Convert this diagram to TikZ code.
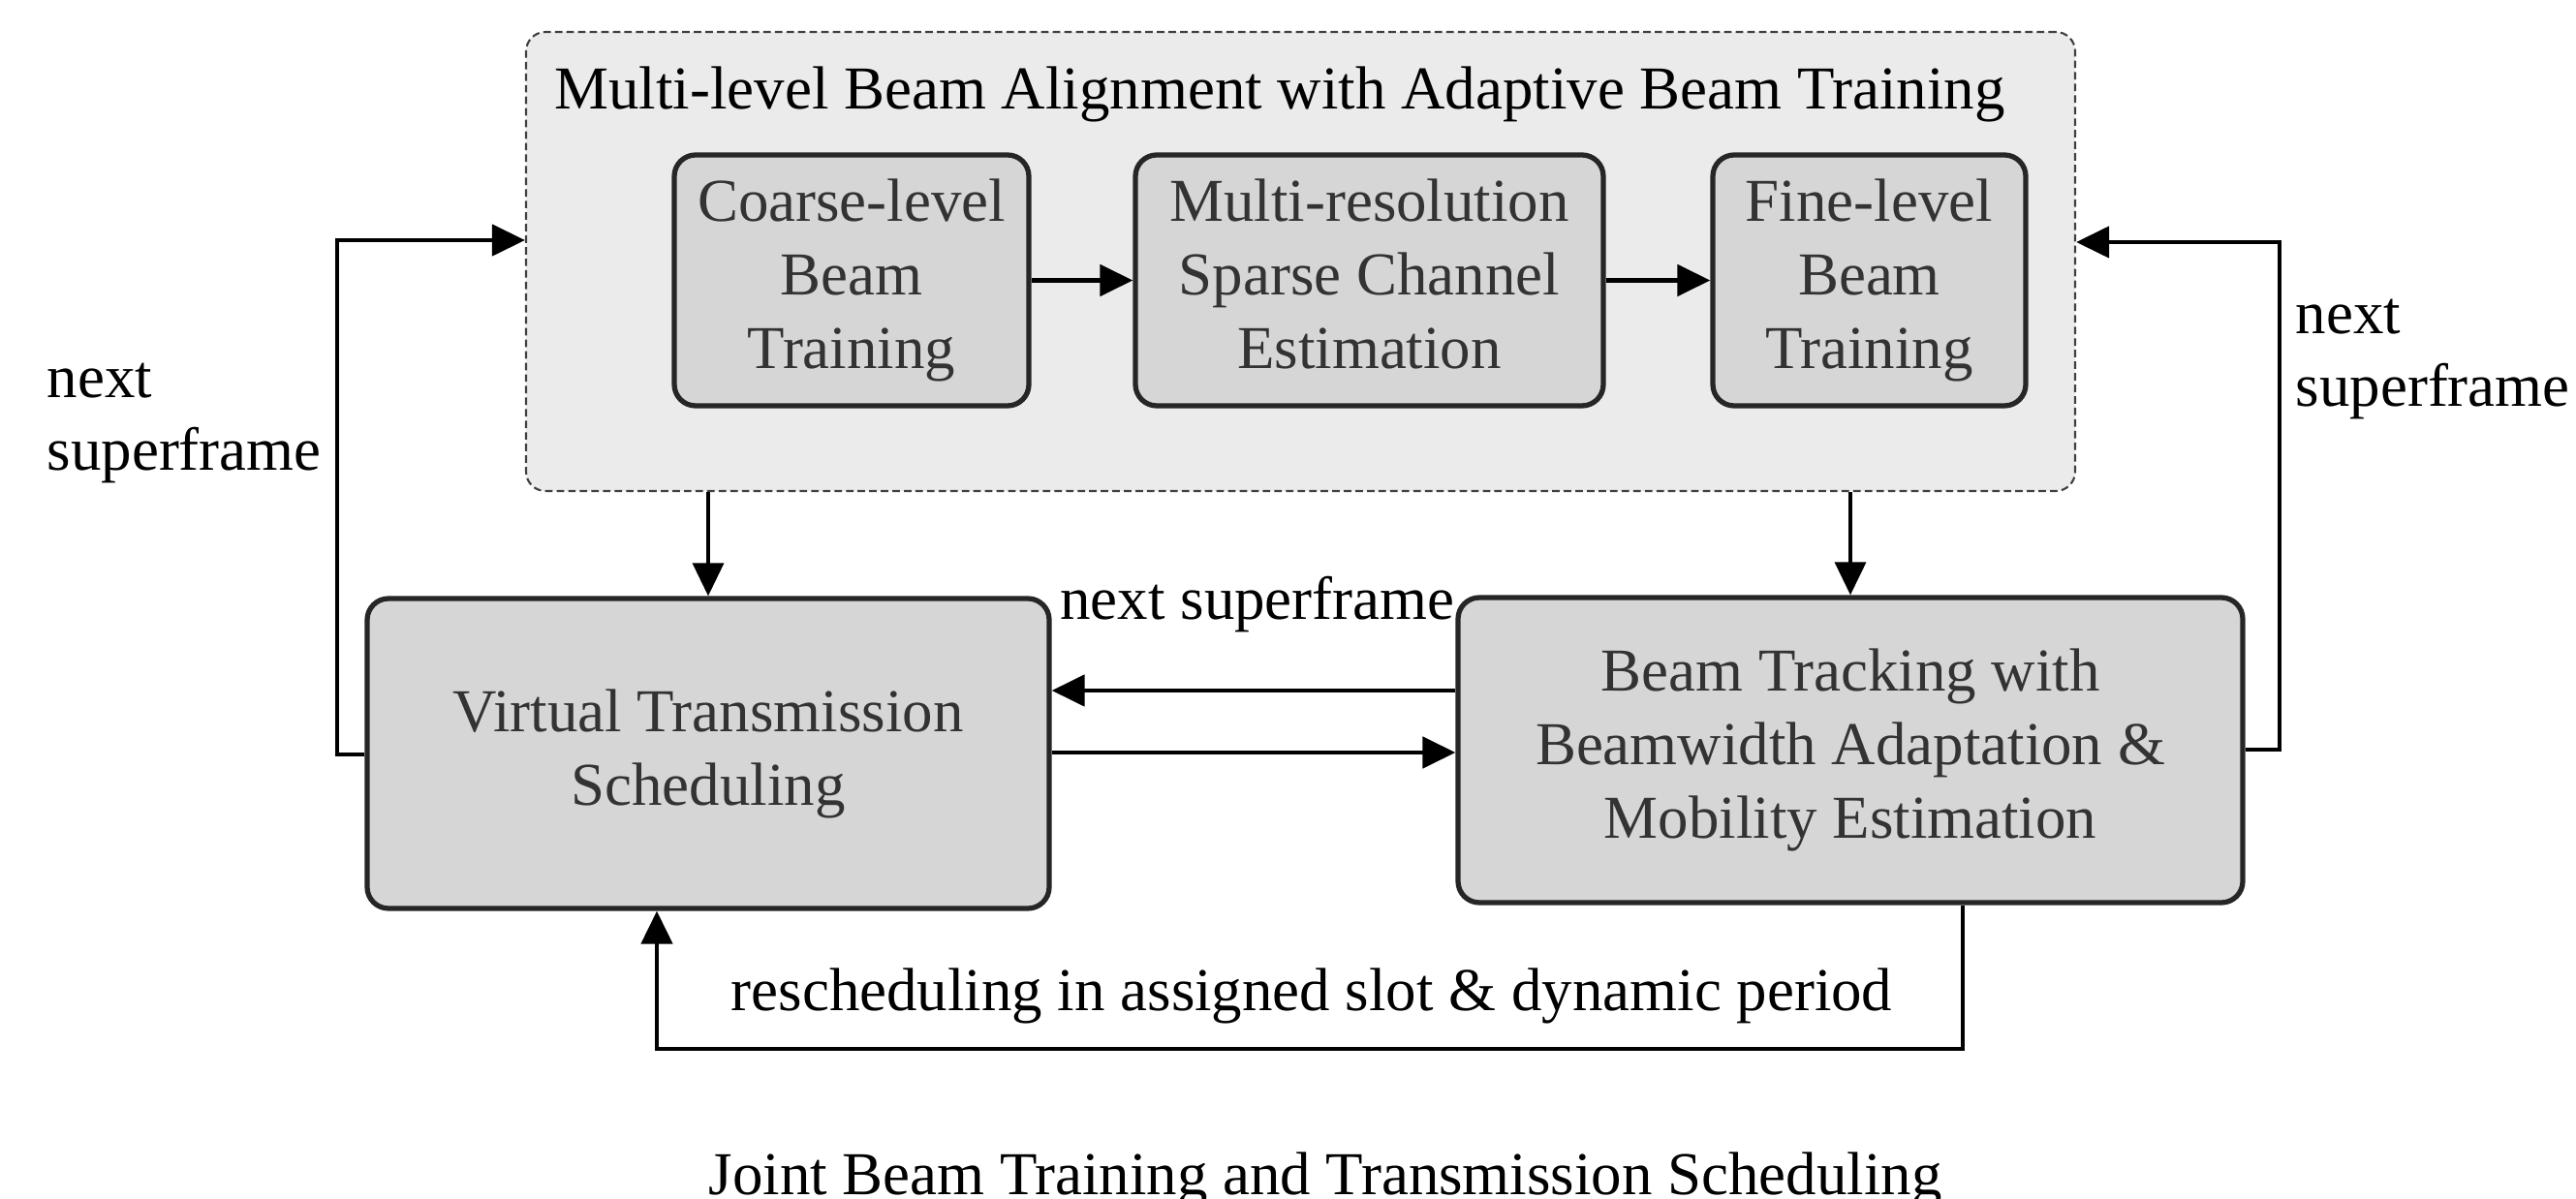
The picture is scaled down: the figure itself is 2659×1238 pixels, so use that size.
\documentclass[tikz,border=0pt]{standalone}
\usepackage{fontspec}
\setmainfont{Liberation Serif}
\usetikzlibrary{arrows.meta}
\begin{document}
\begin{tikzpicture}[x=0.1mm,y=-0.1mm,
  fs/.style={font=\fontsize{17.9pt}{21.6pt}\selectfont},
  outerbox/.style={draw=black!75, line width=0.6pt, dash pattern=on 2.2pt off 1.2pt, rounded corners=2mm, fill=black!8, inner sep=0pt},
  inbox/.style={draw=black!85, line width=1.5pt, rounded corners=2.2mm, fill=black!16, text=black!80, align=center, inner sep=0pt, fs},
  lbl/.style={inner sep=0pt, fs, text=black},
  arr/.style={line width=1.4pt, -{Triangle[length=3.4mm,width=3.2mm]}},
  thinarr/.style={line width=1pt, -{Triangle[length=3.4mm,width=3.2mm]}},
  loopline/.style={line width=1.3pt, -{Triangle[length=3.4mm,width=3.2mm]}}
]
\useasboundingbox (0,0) rectangle (2659,1238);
% outer dashed box
\node[outerbox, minimum width=159.9mm, minimum height=47.4mm] (mla) at (1342.5,270) {};
\node[lbl, anchor=base] (title) at (1321,113) {Multi-level Beam Alignment with Adaptive Beam Training};
% inner boxes
\node[inbox, minimum width=36.6mm, minimum height=25.9mm] (coarse) at (879,289.5) {\strut Coarse-level\\Beam\\Training\strut};
\node[inbox, minimum width=48.3mm, minimum height=25.9mm] (multi) at (1413.5,289.5) {\strut Multi-resolution\\Sparse Channel\\Estimation\strut};
\node[inbox, minimum width=32.3mm, minimum height=25.9mm] (fine) at (1929.5,289.5) {\strut Fine-level\\Beam\\Training\strut};
% lower boxes
\node[inbox, minimum width=70.4mm, minimum height=32mm] (vt) at (731,778) {\strut Virtual Transmission\\Scheduling\strut};
\node[inbox, minimum width=81mm, minimum height=31.5mm] (bt) at (1910,774.5) {\strut Beam Tracking with\\Beamwidth Adaptation \&\\Mobility Estimation\strut};
% arrows inside
\draw[arr] (coarse.east) -- (multi.west);
\draw[arr] (multi.east) -- (fine.west);
% down arrows
\draw[thinarr] (vt.north |- mla.south) -- (vt.north);
\draw[thinarr] (bt.north |- mla.south) -- (bt.north);
% between lower boxes
\draw[arr] (bt.west |- 0,713) -- (vt.east |- 0,713);
\draw[arr] (vt.east |- 0,777) -- (bt.west |- 0,777);
\node[lbl, anchor=base] (ns) at (1298,640) {next superframe};
% left loop
\draw[loopline] (vt.west |- 0,779) -- (348,779) -- (348,248) -- (mla.west |- 0,248);
\node[lbl, anchor=base west, align=left] (nsl) at (48,486) {next\\superframe};
% right loop
\draw[loopline] (bt.east |- 0,774) -- (2353,774) -- (2353,250) -- (mla.east |- 0,250);
\node[lbl, anchor=base west, align=left] (nsr) at (2369,420) {next\\superframe};
% bottom loop
\draw[loopline] (bt.south -| 2026,0) -- (2026,1083) -- (678,1083) -- (vt.south -| 678,0);
\node[lbl, anchor=base] (resched) at (1354,1043) {rescheduling in assigned slot \& dynamic period};
% caption
\node[lbl, anchor=base] (cap) at (1368,1233) {Joint Beam Training and Transmission Scheduling};
\end{tikzpicture}
\end{document}
